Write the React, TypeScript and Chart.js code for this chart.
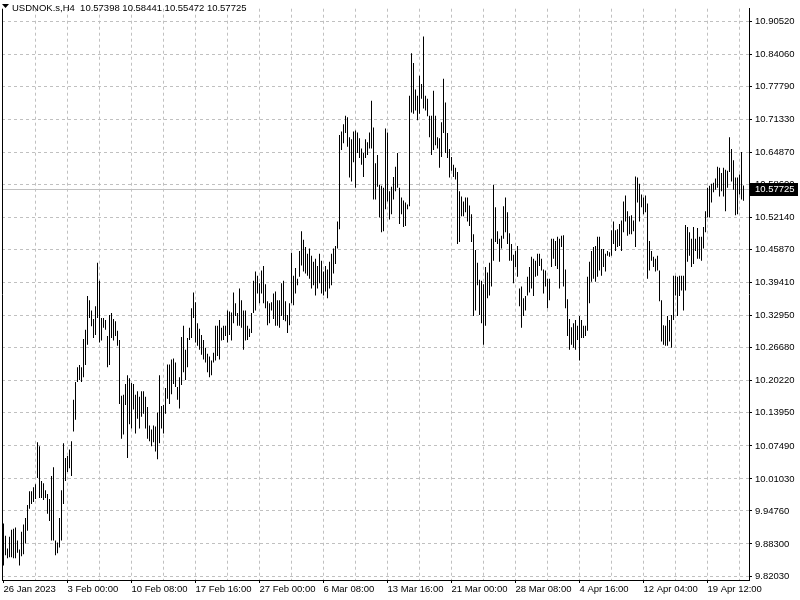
import React, { useEffect, useRef } from "react";
import { Chart, registerables } from "chart.js";

Chart.register(...registerables);

// ---- data ----
const symbolTitle = "USDNOK.s,H4";
const lastOpen = 10.57398;
const lastHigh = 10.58441;
const lastLow = 10.55472;
const lastClose = 10.57725;

const highs = [
  9.923, 9.899, 9.874, 9.897, 9.911, 9.913, 9.915, 9.890, 9.872, 9.907,
  9.921, 9.934, 9.959, 9.986, 9.986, 9.994, 10.000, 10.082, 10.074, 10.006,
  10.002, 9.988, 9.981, 9.971, 10.016, 10.033, 9.890, 9.886, 9.934, 9.988,
  10.080, 10.051, 10.055, 10.068, 10.084, 10.165, 10.200, 10.229, 10.233, 10.229,
  10.284, 10.302, 10.368, 10.360, 10.340, 10.323, 10.348, 10.433, 10.398, 10.325,
  10.325, 10.321, 10.290, 10.331, 10.335, 10.323, 10.319, 10.300, 10.282, 10.173,
  10.175, 10.196, 10.213, 10.207, 10.198, 10.196, 10.175, 10.182, 10.171, 10.182,
  10.182, 10.171, 10.151, 10.115, 10.107, 10.115, 10.113, 10.140, 10.213, 10.153,
  10.155, 10.188, 10.234, 10.234, 10.244, 10.246, 10.238, 10.190, 10.209, 10.288,
  10.310, 10.263, 10.286, 10.306, 10.344, 10.375, 10.356, 10.315, 10.304, 10.292,
  10.282, 10.267, 10.255, 10.250, 10.242, 10.257, 10.310, 10.310, 10.321, 10.306,
  10.310, 10.310, 10.340, 10.338, 10.336, 10.375, 10.354, 10.335, 10.383, 10.360,
  10.340, 10.340, 10.310, 10.304, 10.335, 10.398, 10.416, 10.408, 10.393, 10.418,
  10.427, 10.391, 10.358, 10.354, 10.356, 10.373, 10.377, 10.360, 10.360, 10.393,
  10.398, 10.358, 10.331, 10.354, 10.453, 10.408, 10.423, 10.402, 10.456, 10.495,
  10.478, 10.464, 10.451, 10.461, 10.447, 10.435, 10.441, 10.427, 10.451, 10.437,
  10.416, 10.427, 10.420, 10.435, 10.451, 10.461, 10.466, 10.514, 10.683, 10.690,
  10.704, 10.721, 10.718, 10.679, 10.675, 10.690, 10.692, 10.688, 10.677, 10.657,
  10.648, 10.675, 10.669, 10.688, 10.750, 10.698, 10.628, 10.644, 10.586, 10.584,
  10.580, 10.696, 10.688, 10.573, 10.582, 10.601, 10.621, 10.648, 10.580, 10.561,
  10.555, 10.551, 10.547, 10.760, 10.843, 10.824, 10.772, 10.760, 10.799, 10.783,
  10.876, 10.760, 10.754, 10.721, 10.721, 10.770, 10.721, 10.679, 10.677, 10.708,
  10.793, 10.747, 10.687, 10.656, 10.640, 10.625, 10.619, 10.611, 10.573, 10.563,
  10.553, 10.561, 10.561, 10.545, 10.528, 10.489, 10.458, 10.433, 10.400, 10.398,
  10.391, 10.425, 10.414, 10.433, 10.480, 10.586, 10.542, 10.495, 10.480, 10.486,
  10.544, 10.561, 10.532, 10.491, 10.470, 10.449, 10.456, 10.466, 10.383, 10.387,
  10.364, 10.368, 10.406, 10.425, 10.445, 10.441, 10.437, 10.451, 10.451, 10.441,
  10.420, 10.418, 10.402, 10.402, 10.480, 10.480, 10.476, 10.484, 10.480, 10.486,
  10.487, 10.420, 10.362, 10.323, 10.307, 10.315, 10.321, 10.310, 10.329, 10.321,
  10.310, 10.310, 10.406, 10.435, 10.456, 10.464, 10.466, 10.484, 10.484, 10.460,
  10.460, 10.451, 10.456, 10.454, 10.497, 10.514, 10.497, 10.499, 10.509, 10.516,
  10.553, 10.565, 10.534, 10.524, 10.526, 10.516, 10.602, 10.600, 10.588, 10.567,
  10.561, 10.565, 10.549, 10.476, 10.456, 10.445, 10.441, 10.447, 10.418, 10.360,
  10.311, 10.310, 10.329, 10.321, 10.331, 10.408, 10.408, 10.406, 10.408, 10.408,
  10.408, 10.507, 10.503, 10.493, 10.480, 10.503, 10.480, 10.501, 10.484, 10.484,
  10.503, 10.534, 10.580, 10.584, 10.588, 10.590, 10.598, 10.621, 10.619, 10.609,
  10.619, 10.615, 10.613, 10.679, 10.656, 10.634, 10.600, 10.600, 10.606, 10.650,
  10.58441,
];

const lows = [
  9.841, 9.861, 9.855, 9.857, 9.857, 9.855, 9.855, 9.866, 9.841, 9.859,
  9.863, 9.884, 9.909, 9.952, 9.961, 9.965, 9.971, 10.012, 9.973, 9.973,
  9.969, 9.973, 9.942, 9.928, 9.890, 9.890, 9.861, 9.865, 9.876, 9.890,
  9.961, 10.006, 10.024, 10.031, 10.016, 10.103, 10.126, 10.200, 10.204, 10.200,
  10.209, 10.233, 10.273, 10.325, 10.309, 10.286, 10.292, 10.325, 10.277, 10.281,
  10.306, 10.302, 10.229, 10.233, 10.286, 10.281, 10.290, 10.271, 10.157, 10.089,
  10.097, 10.155, 10.051, 10.117, 10.109, 10.146, 10.099, 10.128, 10.109, 10.132,
  10.138, 10.109, 10.089, 10.084, 10.074, 10.082, 10.064, 10.049, 10.080, 10.109,
  10.099, 10.138, 10.167, 10.157, 10.176, 10.196, 10.190, 10.165, 10.148, 10.194,
  10.219, 10.204, 10.229, 10.282, 10.286, 10.325, 10.277, 10.271, 10.263, 10.253,
  10.244, 10.238, 10.219, 10.209, 10.213, 10.238, 10.242, 10.251, 10.244, 10.281,
  10.282, 10.290, 10.277, 10.292, 10.281, 10.315, 10.329, 10.310, 10.310, 10.306,
  10.263, 10.281, 10.282, 10.288, 10.296, 10.335, 10.340, 10.373, 10.354, 10.373,
  10.354, 10.344, 10.311, 10.315, 10.340, 10.323, 10.310, 10.310, 10.306, 10.329,
  10.321, 10.319, 10.296, 10.311, 10.354, 10.350, 10.373, 10.389, 10.406, 10.428,
  10.416, 10.412, 10.408, 10.402, 10.383, 10.389, 10.369, 10.383, 10.393, 10.373,
  10.369, 10.377, 10.364, 10.383, 10.389, 10.412, 10.431, 10.461, 10.499, 10.654,
  10.667, 10.687, 10.660, 10.600, 10.592, 10.630, 10.580, 10.648, 10.638, 10.625,
  10.601, 10.638, 10.644, 10.657, 10.657, 10.557, 10.557, 10.582, 10.522, 10.493,
  10.495, 10.538, 10.553, 10.518, 10.528, 10.557, 10.573, 10.580, 10.509, 10.528,
  10.503, 10.505, 10.538, 10.544, 10.727, 10.725, 10.731, 10.712, 10.725, 10.754,
  10.735, 10.731, 10.720, 10.679, 10.644, 10.654, 10.663, 10.657, 10.619, 10.640,
  10.687, 10.648, 10.638, 10.600, 10.613, 10.601, 10.596, 10.470, 10.474, 10.524,
  10.524, 10.532, 10.514, 10.505, 10.474, 10.329, 10.340, 10.389, 10.331, 10.315,
  10.273, 10.310, 10.364, 10.369, 10.387, 10.437, 10.474, 10.470, 10.435, 10.461,
  10.480, 10.493, 10.470, 10.437, 10.437, 10.393, 10.425, 10.406, 10.348, 10.306,
  10.329, 10.340, 10.369, 10.375, 10.383, 10.368, 10.406, 10.408, 10.427, 10.418,
  10.373, 10.387, 10.344, 10.360, 10.425, 10.441, 10.427, 10.421, 10.383, 10.464,
  10.387, 10.344, 10.290, 10.263, 10.273, 10.267, 10.263, 10.282, 10.242, 10.286,
  10.286, 10.290, 10.300, 10.354, 10.396, 10.402, 10.396, 10.406, 10.418, 10.408,
  10.425, 10.416, 10.447, 10.445, 10.447, 10.470, 10.456, 10.464, 10.466, 10.456,
  10.493, 10.514, 10.486, 10.489, 10.489, 10.495, 10.464, 10.551, 10.514, 10.542,
  10.528, 10.532, 10.402, 10.418, 10.437, 10.425, 10.416, 10.418, 10.358, 10.279,
  10.273, 10.271, 10.271, 10.279, 10.267, 10.321, 10.369, 10.329, 10.368, 10.379,
  10.340, 10.379, 10.435, 10.447, 10.425, 10.431, 10.456, 10.441, 10.441, 10.437,
  10.461, 10.493, 10.522, 10.522, 10.551, 10.571, 10.576, 10.580, 10.563, 10.573,
  10.563, 10.534, 10.580, 10.611, 10.592, 10.576, 10.526, 10.528, 10.567, 10.557,
  10.55472,
];

// time labels, one every 32 bars starting at bar 0
const timeLabels = [
  "26 Jan 2023", "3 Feb 00:00", "10 Feb 08:00", "17 Feb 16:00", "27 Feb 00:00",
  "6 Mar 08:00", "13 Mar 16:00", "21 Mar 00:00", "28 Mar 08:00", "4 Apr 16:00",
  "12 Apr 04:00", "19 Apr 12:00",
];
const barsPerLabel = 32;
const barsPerGrid = 16;

const priceTicks = [
  10.9052, 10.8406, 10.7779, 10.7133, 10.6487, 10.586, 10.5214, 10.4587, 10.3941,
  10.3295, 10.2668, 10.2022, 10.1395, 10.0749, 10.0103, 9.9476, 9.883, 9.8203,
];
const priceMin = 9.8125;
const priceMax = 10.9303;

const FONT_FAMILY = "'Liberation Sans', Arial, sans-serif";
const FONT_SIZE = 9.5;

export default function App() {
  const ref = useRef<HTMLCanvasElement>(null);

  useEffect(() => {
    const canvas = ref.current;
    if (!canvas) return;

    const points = highs.map((h, i) => ({ x: i, y: [lows[i], h] }));
    const gridValues: number[] = [];
    for (let v = 0; v < highs.length; v += barsPerGrid) gridValues.push(v);

    const labelFor = (v: number) => {
      if (v % barsPerLabel !== 0) return "";
      return timeLabels[v / barsPerLabel] ?? "";
    };

    const overlay = {
      id: "mt4overlay",
      beforeDatasetsDraw(chart: any) {
        const { ctx, chartArea } = chart;
        const y = Math.round(chart.scales.y.getPixelForValue(lastClose)) + 0.5;
        ctx.save();
        ctx.strokeStyle = "#c0c0c0";
        ctx.lineWidth = 1;
        ctx.beginPath();
        ctx.moveTo(chartArea.left, y);
        ctx.lineTo(chartArea.right, y);
        ctx.stroke();
        ctx.restore();
      },
      afterDraw(chart: any) {
        const { ctx, chartArea } = chart;
        ctx.save();
        // left frame
        ctx.strokeStyle = "#000";
        ctx.lineWidth = 1;
        ctx.beginPath();
        ctx.moveTo(chartArea.left + 0.5, chartArea.top);
        ctx.lineTo(chartArea.left + 0.5, chartArea.bottom);
        ctx.stroke();
        // price box
        const py = Math.round(chart.scales.y.getPixelForValue(lastClose));
        ctx.fillStyle = "#000";
        ctx.fillRect(chartArea.right + 1, py - 6, 48, 13);
        ctx.fillStyle = "#fff";
        ctx.font = `${FONT_SIZE}px ${FONT_FAMILY}`;
        ctx.textAlign = "left";
        ctx.textBaseline = "middle";
        ctx.fillText(lastClose.toFixed(5), chartArea.right + 6, py + 0.5);
        // title
        ctx.fillStyle = "#000";
        ctx.beginPath();
        ctx.moveTo(2, 4);
        ctx.lineTo(9, 4);
        ctx.lineTo(5.5, 8);
        ctx.closePath();
        ctx.fill();
        ctx.textBaseline = "alphabetic";
        ctx.fillText(
          `${symbolTitle}  ${lastOpen.toFixed(5)} ${lastHigh.toFixed(5)} ${lastLow.toFixed(5)} ${lastClose.toFixed(5)}`,
          12,
          11
        );
        ctx.restore();
      },
    };

    const chart = new Chart(canvas, {
      type: "bar",
      data: {
        datasets: [
          {
            data: points as any,
            backgroundColor: "#000",
            borderWidth: 0,
            borderSkipped: false,
            barThickness: 1,
            inflateAmount: 0,
          } as any,
        ],
      },
      options: {
        responsive: false,
        animation: false,
        events: [],
        layout: { padding: { top: 2, left: 2, right: 0, bottom: 0 } },
        plugins: { legend: { display: false }, tooltip: { enabled: false } },
        scales: {
          x: {
            type: "linear",
            position: "bottom",
            offset: false,
            min: -0.75,
            max: 372.75,
            afterFit(scale: any) {
              scale.height = 20;
            },
            afterBuildTicks(scale: any) {
              scale.ticks = gridValues.map((v) => ({ value: v }));
            },
            grid: {
              offset: false,
              color: (c: any) => (c.tick && c.tick.value === 0 ? "rgba(0,0,0,0)" : "#c0c0c0"),
              lineWidth: 1,
              drawTicks: true,
              tickLength: 3,
              tickColor: (c: any) =>
                c.tick && c.tick.value % barsPerLabel === 0 ? "#000" : "rgba(0,0,0,0)",
              tickBorderDash: [],
            },
            border: { display: true, color: "#000", width: 1, dash: [3, 3] },
            ticks: {
              autoSkip: false,
              maxRotation: 0,
              minRotation: 0,
              align: "start",
              padding: 1,
              color: "#000",
              font: { family: FONT_FAMILY, size: FONT_SIZE },
              callback: (v: any) => labelFor(Number(v)),
            },
          } as any,
          y: {
            type: "linear",
            position: "right",
            min: priceMin,
            max: priceMax,
            afterFit(scale: any) {
              scale.width = 51;
            },
            afterBuildTicks(scale: any) {
              scale.ticks = priceTicks.map((v) => ({ value: v }));
            },
            grid: {
              color: "#c0c0c0",
              lineWidth: 1,
              drawTicks: true,
              tickLength: 3,
              tickColor: "#000",
              tickBorderDash: [],
            },
            border: { display: true, color: "#000", width: 1, dash: [3, 3] },
            ticks: {
              autoSkip: false,
              padding: 3,
              color: "#000",
              font: { family: FONT_FAMILY, size: FONT_SIZE },
              callback: (v: any) => Number(v).toFixed(5),
            },
          } as any,
        },
      },
      plugins: [overlay],
    });

    return () => chart.destroy();
  }, []);

  return (
    <div style={{ position: "fixed", left: 0, top: 0, width: 800, height: 600, background: "#fff" }}>
      <canvas ref={ref} width={800} height={600} style={{ display: "block", width: 800, height: 600 }} />
    </div>
  );
}
